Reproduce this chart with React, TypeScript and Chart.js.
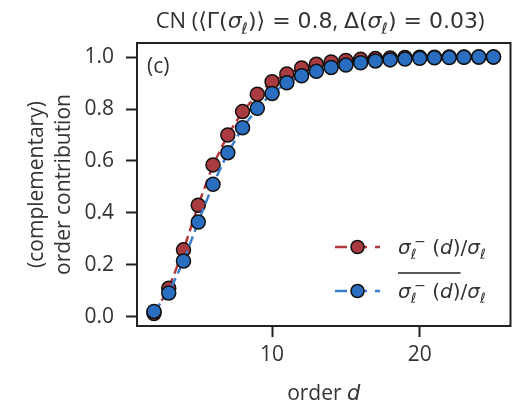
import React, { useEffect, useRef } from "react";
import { Chart, registerables } from "chart.js";

Chart.register(...registerables);

const orders = [2, 3, 4, 5, 6, 7, 8, 9, 10, 11, 12, 13, 14, 15, 16, 17, 18, 19, 20, 21, 22, 23, 24, 25];
const redValues = [0.013, 0.11, 0.258, 0.43, 0.585, 0.7, 0.79, 0.857, 0.905, 0.935, 0.958, 0.972, 0.981, 0.987, 0.991, 0.994, 0.996, 0.998, 0.999, 0.999, 1.0, 1.0, 1.0, 1.0];
const blueValues = [0.021, 0.092, 0.215, 0.365, 0.51, 0.632, 0.728, 0.803, 0.86, 0.901, 0.928, 0.945, 0.96, 0.969, 0.978, 0.985, 0.989, 0.992, 0.995, 0.997, 0.998, 0.999, 1.0, 1.0];
const xTicks = [10, 20];
const yTicks = [0, 0.2, 0.4, 0.6, 0.8, 1.0];

const FONT = "'Open Sans', Lato, sans-serif";
const MATH = "'DejaVu Sans', sans-serif";
const FS = 21;
const TEXT = "#333333";
const DARK = "#222222";
const RED_FILL = "#a93b40";
const RED_LINE = "#b23a3e";
const BLUE_FILL = "#2a6ec2";
const BLUE_LINE = "#3a7ccd";

type Seg = { t: string; it?: boolean; sub?: boolean; sup?: boolean; back?: boolean; m?: boolean };

function segFont(s: Seg, size: number) {
  const sz = s.sub || s.sup ? size * 0.7 : size;
  return `${s.it ? "italic " : ""}${sz}px ${s.m ? MATH : FONT}`;
}

function drawRich(ctx: CanvasRenderingContext2D, segs: Seg[], x: number, y: number, size: number, align: "left" | "center") {
  const xs: number[] = [];
  const ws: number[] = [];
  let cx = 0;
  let prevStart = 0;
  let prevW = 0;
  for (const s of segs) {
    ctx.font = segFont(s, size);
    const w = ctx.measureText(s.t).width;
    let start = cx;
    if (s.back) {
      start = prevStart + prevW * 0.6;
      cx = Math.max(prevStart + prevW, start + w);
    } else {
      cx += w;
    }
    xs.push(start);
    ws.push(w);
    prevStart = start;
    prevW = w;
  }
  const total = cx;
  const x0 = align === "center" ? x - total / 2 : x;
  ctx.save();
  ctx.fillStyle = TEXT;
  ctx.textAlign = "left";
  ctx.textBaseline = "alphabetic";
  segs.forEach((s, i) => {
    ctx.font = segFont(s, size);
    let dy = 0;
    if (s.sub) dy = size * 0.25;
    if (s.sup) dy = -size * 0.38;
    ctx.fillText(s.t, x0 + xs[i], y + dy);
  });
  ctx.restore();
  return { x0, xs: xs.map((v) => v + x0), ws, total };
}

const sigmaL: Seg[] = [{ t: "σ", it: true, m: true }, { t: "ℓ", it: true, sub: true, m: true }];

const titleSegs: Seg[] = [
  { t: "CN (" },
  { t: "⟨Γ(", m: true },
  ...sigmaL,
  { t: ")⟩ = 0.8", m: true },
  { t: ", " },
  { t: "Δ(", m: true },
  ...sigmaL,
  { t: ") = 0.03", m: true },
  { t: ")" },
];

const legendSegs: Seg[] = [
  { t: "σ", it: true, m: true },
  { t: "ℓ", it: true, sub: true, m: true },
  { t: "−", sup: true, back: true, m: true },
  { t: " (", m: true },
  { t: "d", it: true, m: true },
  { t: ")", m: true },
  { t: "/", m: true },
  ...sigmaL,
];

const decorPlugin = {
  id: "decor",
  afterDraw(chart: any) {
    const ctx: CanvasRenderingContext2D = chart.ctx;
    const a = chart.chartArea;
    ctx.save();
    ctx.strokeStyle = DARK;
    ctx.lineWidth = 2;
    ctx.strokeRect(a.left, a.top, a.right - a.left, a.bottom - a.top);

    drawRich(ctx, titleSegs, 320, 28, 22, "center");

    ctx.fillStyle = TEXT;
    ctx.font = `${FS}px ${FONT}`;
    ctx.textAlign = "left";
    ctx.textBaseline = "alphabetic";
    ctx.fillText("(c)", a.left + 10, 73);

    drawRich(ctx, [{ t: "order " }, { t: "d", it: true, m: true }], (a.left + a.right) / 2, 400, FS, "center");

    ctx.save();
    ctx.fillStyle = TEXT;
    ctx.font = `${FS}px ${FONT}`;
    ctx.textAlign = "center";
    ctx.textBaseline = "alphabetic";
    const cy = (a.top + a.bottom) / 2;
    ctx.translate(43, cy);
    ctx.rotate(-Math.PI / 2);
    ctx.fillText("(complementary)", 0, 0);
    ctx.fillText("order contribution", 0, 27);
    ctx.restore();

    const items = [
      { y: 247, line: RED_LINE, fill: RED_FILL, over: false },
      { y: 291, line: BLUE_LINE, fill: BLUE_FILL, over: true },
    ];
    for (const it of items) {
      ctx.save();
      ctx.strokeStyle = it.line;
      ctx.lineWidth = 2.5;
      ctx.setLineDash([12, 8]);
      ctx.beginPath();
      ctx.moveTo(335, it.y);
      ctx.lineTo(380, it.y);
      ctx.stroke();
      ctx.setLineDash([]);
      ctx.beginPath();
      ctx.arc(357.5, it.y, 6.5, 0, Math.PI * 2);
      ctx.fillStyle = it.fill;
      ctx.fill();
      ctx.lineWidth = 1.5;
      ctx.strokeStyle = "#111";
      ctx.stroke();
      ctx.restore();
      const r = drawRich(ctx, legendSegs, 398, it.y + 7, 20, "left");
      if (it.over) {
        const endX = r.xs[5] + r.ws[5];
        ctx.save();
        ctx.strokeStyle = DARK;
        ctx.lineWidth = 1.5;
        ctx.beginPath();
        ctx.moveTo(r.xs[0], it.y - 18);
        ctx.lineTo(endX, it.y - 18);
        ctx.stroke();
        ctx.restore();
      }
    }
    ctx.restore();
  },
};

export default function App() {
  const ref = useRef<HTMLCanvasElement>(null);
  useEffect(() => {
    if (!ref.current) return;
    const mk = (label: string, vals: number[], line: string, fill: string, order: number) => ({
      label,
      data: orders.map((d, i) => ({ x: d, y: vals[i] })),
      borderColor: line,
      borderWidth: 2.5,
      borderDash: [10, 5],
      pointRadius: 7,
      pointBackgroundColor: fill,
      pointBorderColor: "#111",
      pointBorderWidth: 1.5,
      order,
      fill: false,
    });
    const chart = new Chart(ref.current, {
      type: "line",
      data: {
        datasets: [
          mk("red", redValues, RED_LINE, RED_FILL, 2),
          mk("blue", blueValues, BLUE_LINE, BLUE_FILL, 1),
        ],
      },
      options: {
        animation: false,
        responsive: true,
        maintainAspectRatio: false,
        layout: { padding: { left: 0, top: 43, right: 3, bottom: 0 } },
        plugins: { legend: { display: false }, tooltip: { enabled: false }, title: { display: false } },
        scales: {
          x: {
            type: "linear",
            min: 0.85,
            max: 26.15,
            afterBuildTicks: (s: any) => {
              s.ticks = xTicks.map((v) => ({ value: v }));
            },
            afterFit: (s: any) => {
              s.height = 82;
            },
            border: { display: false },
            grid: { display: true, drawOnChartArea: false, drawTicks: true, tickLength: 11, tickWidth: 2, tickColor: DARK, color: DARK },
            ticks: { color: TEXT, font: { family: FONT, size: FS }, padding: 5, callback: (v: any) => String(v) },
          },
          y: {
            type: "linear",
            min: -0.035,
            max: 1.054,
            afterBuildTicks: (s: any) => {
              s.ticks = yTicks.map((v) => ({ value: v }));
            },
            afterFit: (s: any) => {
              s.width = 137;
            },
            border: { display: false },
            grid: { display: true, drawOnChartArea: false, drawTicks: true, tickLength: 11, tickWidth: 2, tickColor: DARK, color: DARK },
            ticks: { color: TEXT, font: { family: FONT, size: FS }, padding: 12, callback: (v: any) => Number(v).toFixed(1) },
          },
        },
      },
      plugins: [decorPlugin],
    });
    return () => chart.destroy();
  }, []);
  return (
    <div style={{ position: "fixed", left: 0, top: 0, width: 519, height: 408, background: "#fff" }}>
      <canvas ref={ref} />
    </div>
  );
}
